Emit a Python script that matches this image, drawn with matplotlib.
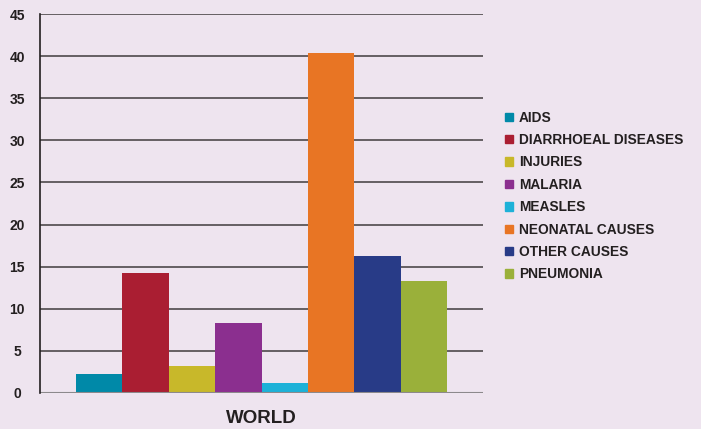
import matplotlib.pyplot as plt
from matplotlib.patches import Patch

# данные
causes = ['AIDS', 'DIARRHOEAL DISEASES', 'INJURIES', 'MALARIA', 'MEASLES',
          'NEONATAL CAUSES', 'OTHER CAUSES', 'PNEUMONIA']
values = [2.2, 14.2, 3.2, 8.3, 1.2, 40.4, 16.3, 13.3]
colors = ['#0089A8', '#AA1E32', '#C8B82A', '#8B2F8F', '#1DB1D8',
          '#E87524', '#283B87', '#9AB03A']
region = 'WORLD'
yticks = [0, 5, 10, 15, 20, 25, 30, 35, 40, 45]

bg = '#EEE4EF'
txt = '#231F20'
plt.rcParams['font.family'] = ['Liberation Sans', 'DejaVu Sans']

fig = plt.figure(figsize=(7.01, 4.29), dpi=100, facecolor=bg)
ax = fig.add_axes([40 / 701, 1 - 393 / 429, 443 / 701, 379 / 429])
ax.set_facecolor(bg)

# столбцы
for i, (c, v, col) in enumerate(zip(causes, values, colors)):
    ax.bar(i, v, width=1.0, color=col, label=c, zorder=3)

ax.set_xlim(-1.276, 8.276)
ax.set_ylim(0, 45)

# сетка
for y in yticks[1:]:
    ax.axhline(y, color='#5A5558', lw=1.3, zorder=1)
ax.axhline(0, color='#8C898C', lw=1.5, zorder=4)

for s in ['top', 'right', 'bottom']:
    ax.spines[s].set_visible(False)
ax.spines['left'].set_color(txt)
ax.spines['left'].set_linewidth(1.2)
ax.spines['left'].set_zorder(5)

ax.set_yticks(yticks)
ax.set_yticklabels([str(t) for t in yticks], fontsize=10, fontweight='bold',
                   color=txt, ha='center')
ax.tick_params(axis='y', length=0, pad=16.5)
ax.set_xticks([3.5])
ax.set_xticklabels([region], fontsize=13.5, fontweight='bold', color=txt)
ax.tick_params(axis='x', length=0, pad=12.5)

handles = [Patch(color=col) for col in colors]
leg = fig.legend(handles, causes, loc='center left', bbox_to_anchor=(0.711, 0.543),
                 frameon=False, handlelength=0.55, handleheight=0.55,
                 handletextpad=0.45, labelspacing=0.61, borderpad=0,
                 prop={'weight': 'bold', 'size': 9.9})
for t in leg.get_texts():
    t.set_color(txt)

fig.savefig('out.png', dpi=100, facecolor=bg)
